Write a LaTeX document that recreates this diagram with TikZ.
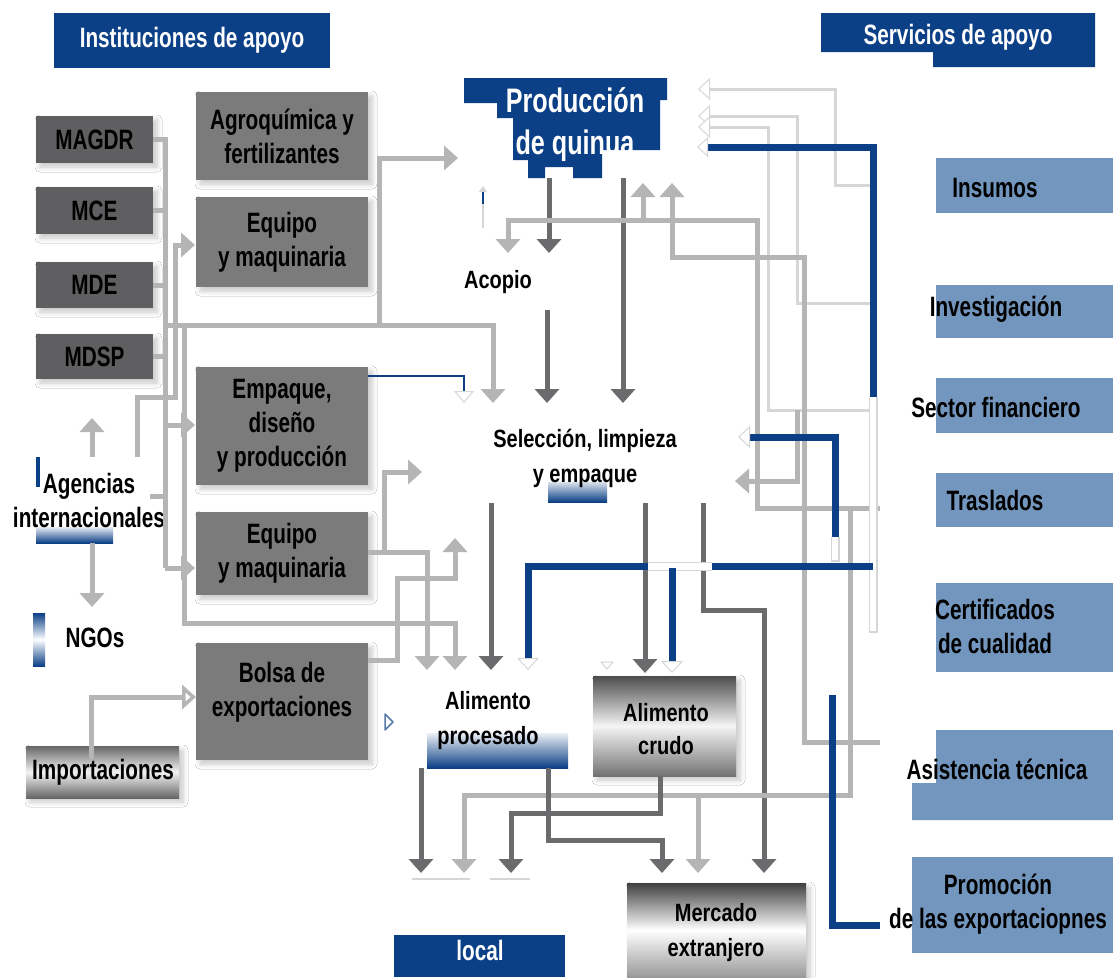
\documentclass[tikz,border=0pt]{standalone}
\usepackage{fontspec}
\usetikzlibrary{arrows.meta,shadows.blur}
\newfontfamily\cond{Liberation Sans}[FakeStretch=0.74, UprightFont={* Bold}]
\newfontfamily\condw{Liberation Sans}[FakeStretch=0.8, UprightFont={* Bold}]
\definecolor{hdrblue}{HTML}{0B3F86}
\definecolor{minis}{HTML}{5F5F61}
\definecolor{midgray}{HTML}{7B7B7B}
\definecolor{svcblue}{HTML}{7396BE}
\definecolor{lite}{HTML}{B5B5B5}
\definecolor{darkln}{HTML}{6B6B6E}
\definecolor{faint}{HTML}{D6D6D6}
\begin{document}
\begin{tikzpicture}[x=1pt,y=-1pt,
  lbl/.style={inner sep=0pt, align=center, font=\cond\fontsize{28}{34}\selectfont},
  midlbl/.style={inner sep=0pt, align=center, font=\condw\fontsize{25}{35}\selectfont},
  softshadow/.style={blur shadow={shadow xshift=4pt, shadow yshift=-4pt, shadow blur radius=5pt, shadow blur steps=8, shadow opacity=22}},
  minbox/.style={lbl, fill=minis, minimum width=117pt, softshadow},
  midbox/.style={lbl, fill=midgray, minimum width=172pt, softshadow},
  tip/.style={-{Triangle[width=24pt,length=14pt]}},
  hollowtip/.style={-{Triangle[width=24pt,length=14pt,fill=white]}},
  whitetip/.style={-{Triangle[width=22pt,length=12pt,color=faint,fill=white,line width=1pt]}},
  litel/.style={draw=lite, line width=5pt},
  darkl/.style={draw=darkln, line width=5pt},
  bluel/.style={draw=hdrblue, line width=7pt},
  faintl/.style={draw=faint, line width=3pt},
  gapl/.style={draw=white, line width=7pt}]
\path[use as bounding box, fill=white] (0,0) rectangle (1113,977);

% ---------- headers ----------
\node[lbl, fill=hdrblue, text=white, minimum width=276pt, minimum height=55pt] (inst) at (192,40.5) {Instituciones de apoyo};
\fill[hdrblue] (821,13) rectangle (1095,52) (933,52) rectangle (1095,67);
\node[lbl, text=white] (serv) at (958,37) {Servicios de apoyo};

% ---------- shaded backgrounds ----------
\shade[top color=hdrblue, bottom color=hdrblue, middle color=white] (33,613) rectangle (45,666);
\fill[hdrblue] (36,457) rectangle (40,487);
\shade[top color=hdrblue!10, bottom color=hdrblue] (36,527) rectangle (113,543);
\shade[top color=hdrblue!15, bottom color=hdrblue] (548,482) rectangle (607,502);
\shade[top color=hdrblue!8, bottom color=hdrblue] (427,733) rectangle (568,768);
\shade[softshadow, top color=black!60, bottom color=black!60, middle color=black!5] (26,746) rectangle (179,798);
\shade[softshadow, top color=black!70, bottom color=black!55, middle color=black!4] (593,676) rectangle (736,776);
\shade[softshadow, top color=black!75, bottom color=black!40, middle color=white] (627,883) rectangle (806,977);
\fill[hdrblue] (394,935) rectangle (565,977);
\fill[hdrblue] (464,78) -- (667,78) -- (667,100) -- (660,100) -- (660,150) -- (602,150)
  -- (602,178) -- (573,178) -- (573,167) -- (545,167) -- (545,178) -- (528,178)
  -- (528,160) -- (513,160) -- (513,118) -- (497,118) -- (497,103) -- (464,103) -- cycle;

% service boxes
\fill[svcblue] (936,158) rectangle (1113,213);
\fill[svcblue] (936,285) rectangle (1113,338);
\fill[svcblue] (936,378) rectangle (1113,433);
\fill[svcblue] (936,473) rectangle (1113,527);
\fill[svcblue] (936,583) rectangle (1113,672);
\fill[svcblue] (936,730) rectangle (1113,803) (912,783) rectangle (1113,820);
\fill[svcblue] (912,857) rectangle (1113,953);

% ---------- ministries ----------
\node[minbox, minimum height=47pt] (magdr) at (94.5,139.5) {MAGDR};
\node[minbox, minimum height=47pt] (mce) at (94.5,210.5) {MCE};
\node[minbox, minimum height=46pt] (mde) at (94.5,285) {MDE};
\node[minbox, minimum height=45pt] (mdsp) at (94.5,356.5) {MDSP};

% ---------- support institutions ----------
\node[midbox, minimum height=88pt] (agro) at (282,136) {Agroquímica y\\fertilizantes};
\node[midbox, minimum height=90pt] (equipoa) at (282,242) {Equipo\\y maquinaria};
\node[midbox, minimum height=118pt] (empaque) at (282,426) {Empaque,\\diseño\\y producción};
\node[midbox, minimum height=83pt] (equipob) at (282,553.5) {Equipo\\y maquinaria};
\node[midbox, minimum height=117pt] (bolsa) at (282,701.5) {};
\node[lbl] (bolsatxt) at (282,692) {Bolsa de\\exportaciones};

\node[lbl] (agencias) at (89,500) {Agencias\\internacionales};
\node[lbl] (ngos) at (95,638) {NGOs};
\node[lbl] (import) at (103,772) {Importaciones};

% ---------- chain ----------
\node[lbl, text=white, font=\cond\fontsize{34}{42}\selectfont] (prod) at (575,125) {Producción\\de quinua};
\node[midlbl] (acopio) at (498,282) {Acopio};
\node[midlbl] (selec) at (585,458) {Selección, limpieza\\y empaque};
\node[midlbl] (proc) at (488,721) {Alimento\\procesado};
\node[midlbl, font=\condw\fontsize{25}{33}\selectfont] (crudo) at (666,729) {Alimento\\crudo};
\node[midlbl] (merc) at (716,933) {Mercado\\extranjero};
\node[lbl, text=white] (local) at (480,950) {local};

% ---------- services ----------
\node[lbl] (insumos) at (995,188) {Insumos};
\node[lbl] (invest) at (996,309) {Investigación};
\node[lbl] (sector) at (996,407) {Sector financiero};
\node[lbl] (trasl) at (995,500) {Traslados};
\node[lbl] (certif) at (995,626) {Certificados\\de cualidad};
\node[lbl] (asist) at (997,769) {Asistencia técnica};
\node[lbl] (promo) at (998,904) {Promoción\\de las exportaciopnes};

% ---------- arrow targets ----------
\coordinate (tProdL) at (458,158);
\coordinate (tEqA) at (195,245);
\coordinate (tEmp) at (195,425);
\coordinate (tEqB) at (195,568);
\coordinate (tBolsa) at (196,697);
\coordinate (tAgUp) at (92,418);
\coordinate (tAgDn) at (92,607);
\coordinate (tAcoA) at (508,253);
\coordinate (tAcoB) at (549,253);
\coordinate (tSelA) at (464,403);
\coordinate (tSelB) at (493,403);
\coordinate (tSelC) at (547,403);
\coordinate (tSelD) at (623,403);
\coordinate (tSelE) at (422,472);
\coordinate (tSelF) at (455,538);
\coordinate (tSelG) at (738,437);
\coordinate (tSelH) at (735,481);
\coordinate (tProcA) at (427,670);
\coordinate (tProcB) at (455,670);
\coordinate (tProcC) at (491,670);
\coordinate (tProcD) at (528,670);
\coordinate (tCruA) at (645,673);
\coordinate (tCruB) at (672,673);
\coordinate (tLocA) at (421,873);
\coordinate (tLocB) at (464,873);
\coordinate (tLocC) at (511,873);
\coordinate (tMerA) at (662,873);
\coordinate (tMerB) at (698,873);
\coordinate (tMerC) at (764,873);
\coordinate (tUpA) at (643,183);
\coordinate (tUpB) at (672,183);
\coordinate (tPrA) at (698,89);
\coordinate (tPrB) at (698,116);
\coordinate (tPrC) at (698,127);
\coordinate (tPrD) at (697,147);

% ---------- faint lines from the services to production ----------
\draw[faintl, whitetip] (877,185) -- (835,185) -- (835,89) -- (tPrA);
\draw[faintl, whitetip] (877,303) -- (797,303) -- (797,116) -- (tPrB);
\draw[faintl, whitetip] (877,410) -- (768,410) -- (768,127) -- (tPrC);

% ---------- left side ----------
\draw[litel] (magdr.east) -- (165,139.5) -- (165,568);
\draw[litel] (mce.east) -- (165,210.5);
\draw[litel] (mde.east) -- (165,285);
\draw[litel] (mdsp.east) -- (165,356.5);
\draw[litel, tip] (165,325) -- (493,325) -- (tSelB);
\draw[litel, tip] (379,325) -- (379,158) -- (tProdL);
\draw[litel, tip] (184,325) -- (184,623) -- (455,623) -- (tProcB);
\draw[litel, tip] (137,457) -- (137,397) -- (175,397) -- (175,245) -- (tEqA);
\draw[litel] (150,496) -- (165,496);
\draw[litel, tip] (165,425) -- (tEmp);
\draw[litel, tip] (165,568) -- (tEqB);
\draw[litel, tip] (92,457) -- (tAgUp);
\draw[litel, tip] (92,543) -- (tAgDn);
\draw[litel, hollowtip] (import.north -| 91,0) -- (91,697) -- (tBolsa);

\draw[litel, tip] (equipob.east |- 0,552) -- (384,552) -- (384,472) -- (tSelE);
\draw[litel, tip] (384,552) -- (427,552) -- (tProcA);
\draw[litel, tip] (bolsa.east |- 0,660) -- (397,660) -- (397,578) -- (455,578) -- (tSelF);
\draw[draw=hdrblue, line width=1.5pt, -{Triangle[width=20pt,length=12pt,color=faint,fill=white,line width=1pt]}] (empaque.east |- 0,376) -- (464,376) -- (tSelA);
\draw[draw=hdrblue!70, fill=white, line width=1.5pt, line join=round] (385,714) -- (393,722) -- (385,730) -- cycle;

% small marks below production
\draw[faint, line width=1.5pt, -{Triangle[width=8pt,length=6pt]}] (483,228) -- (483,186);
\draw[hdrblue, line width=2pt] (483,192) -- (483,204);
\draw[faint, fill=white, line width=1pt] (601,662) -- (613,662) -- (607,669) -- cycle;

% ---------- production chain ----------
\draw[darkl, tip] (549,178) -- (tAcoB);
\draw[darkl, tip] (547,310) -- (tSelC);
\draw[darkl, tip] (623,178) -- (tSelD);
\draw[darkl, tip] (491,503) -- (tProcC);
\draw[darkl, tip] (645,503) -- (tCruA);
\draw[darkl, tip] (703,503) -- (703,610) -- (764,610) -- (tMerC);

% ---------- right side ----------
\draw[litel, tip] (trasl.west -| 880,0) ++(0,8) -- (757,508) -- (757,220) -- (508,220) -- (tAcoA);
\draw[litel, tip] (643,220) -- (tUpA);
\draw[litel, tip] (880,742) -- (804,742) -- (804,257) -- (672,257) -- (tUpB);
\draw[litel, tip] (797,410) -- (797,481) -- (tSelH);
\draw[litel, tip] (850,508) -- (850,795) -- (464,795) -- (tLocB);
\draw[litel, tip] (698,795) -- (tMerB);

\draw[draw=faint, line width=9pt] (873,397) -- (873,633);
\draw[draw=white, line width=6pt] (873,397) -- (873,631);
\draw[bluel, -{Triangle[width=20pt,length=11pt,color=faint,fill=white,line width=1pt]}] (873,397) -- (873,147) -- (tPrD);
\draw[draw=faint, line width=9pt] (835,537) -- (835,562);
\draw[draw=white, line width=6pt] (835,537) -- (835,560);
\draw[bluel, whitetip] (835,537) -- (835,437) -- (tSelG);
\draw[bluel] (873,566) -- (712,566);
\draw[draw=faint, line width=9pt] (648,566) -- (712,566);
\draw[gapl] (648,566) -- (712,566);
\draw[bluel, whitetip] (648,566) -- (528,566) -- (tProcD);
\draw[bluel, whitetip] (672,568) -- (tCruB);
\draw[bluel] (832,695) -- (832,925) -- (880,925);

% ---------- toward the markets ----------
\draw[darkl, tip] (421,768) -- (tLocA);
\draw[darkl, tip] (crudo.south |- 0,776) ++(-6,0) -- (660,813) -- (511,813) -- (tLocC);
\draw[darkl, tip] (548,768) -- (548,840) -- (662,840) -- (tMerA);
\draw[draw=faint, line width=1.5pt] (412,879) -- (470,879) (490,879) -- (530,879);
\end{tikzpicture}
\end{document}
